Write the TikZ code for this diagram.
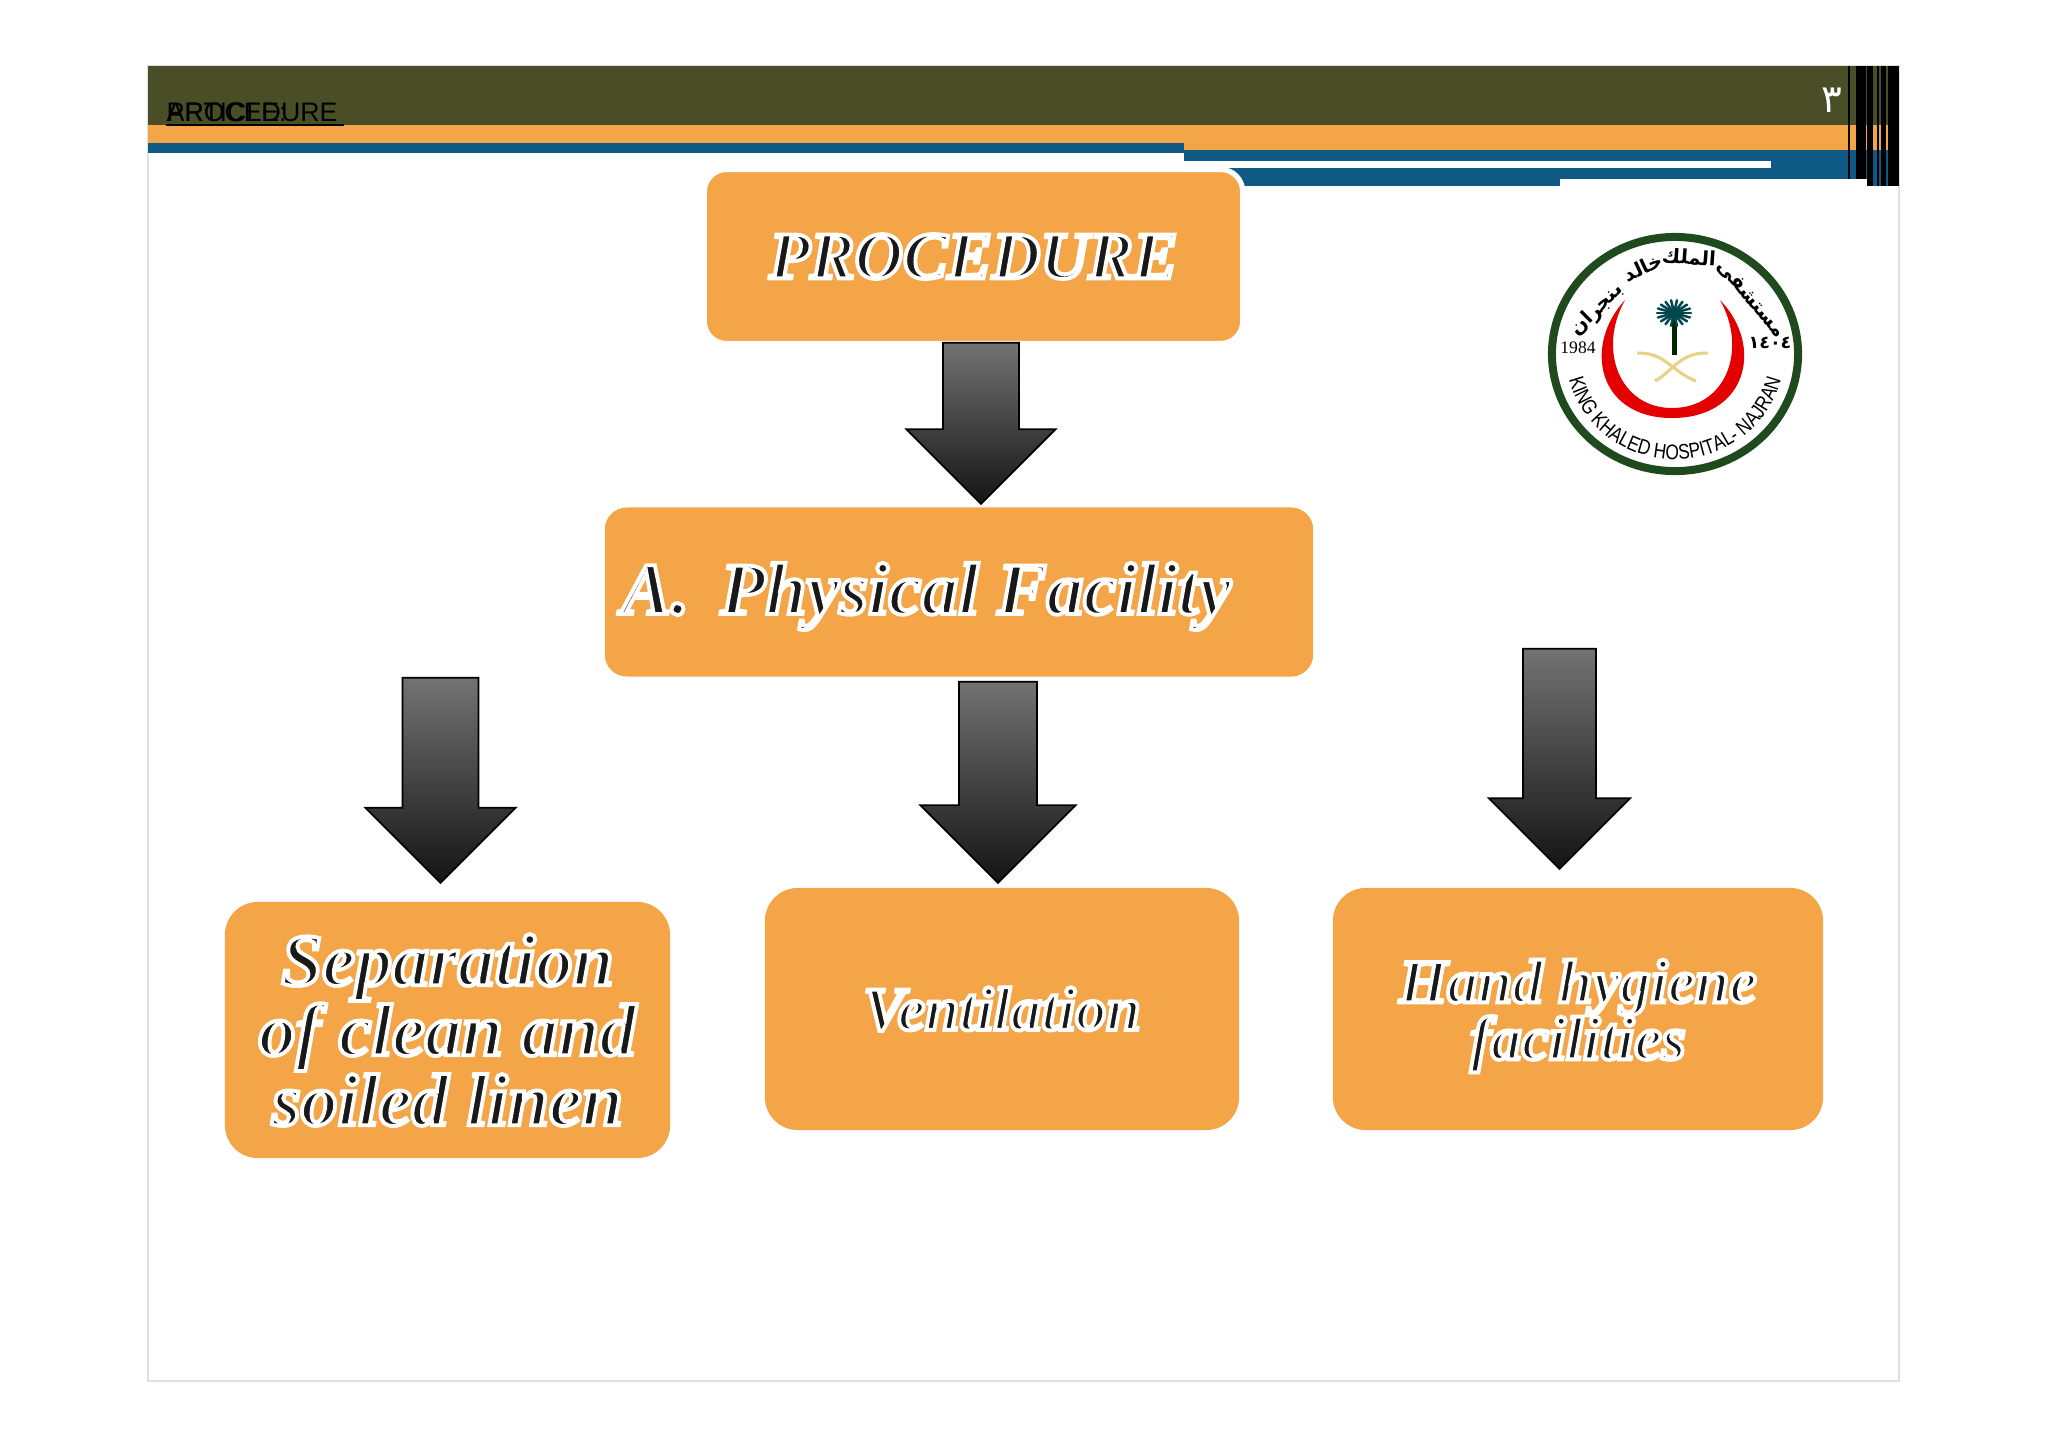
\documentclass[tikz,border=0pt]{standalone}
\usepackage{fontspec}
\setmainfont{Liberation Serif}
\setsansfont{Liberation Sans}
\newfontfamily\arabicfont[Script=Arabic]{DejaVu Sans}
\newfontfamily\logosans[FakeStretch=0.82]{Liberation Sans}
\TeXXeTstate=1
\usetikzlibrary{shapes.arrows,decorations.text}
\definecolor{olivebar}{HTML}{4A4E27}
\definecolor{orangebar}{HTML}{F3A548}
\definecolor{bluebar}{HTML}{0F5A85}
\definecolor{ringgreen}{HTML}{1E4A1E}
\definecolor{swordgold}{HTML}{E6D282}
\newcommand{\outlined}{\special{pdf:code 2 Tr 1 1 1 RG 1.1 w}}
\newcommand{\plainink}{\special{pdf:code 0 Tr}}
\tikzset{
    every node/.style={inner sep=0pt},
}

\begin{document}
\begin{tikzpicture}[x=0.01cm,y=-0.01cm,
        stepbox/.style={rounded corners=0.33cm,fill=orangebar,align=center,text=black!90,font=\bfseries\itshape},
        steptext/.style={align=center,text=black!90},
        downarrow/.style={shape=single arrow,rotate=-90,anchor=tip,draw=black,line width=0.5pt,top color=black!55,bottom color=black!92},
        headtext/.style={font=\sffamily\fontsize{7.6}{9}\selectfont,text=black,anchor=base west},
        logoword/.style={font=\arabicfont\bfseries\fontsize{5.6}{7}\selectfont,text=black}
    ]
    \useasboundingbox (0,0) rectangle (2048,1447);

    % slide
    \draw[black!12,fill=white] (148,66) rectangle (1899,1381);

    % header bands
    \fill[olivebar] (148,66) rectangle (1899,125);
    \fill[orangebar] (148,125) rectangle (1184,143);
    \fill[orangebar] (1184,125) rectangle (1899,150);
    \fill[bluebar] (148,143) rectangle (1184,153);
    \fill[bluebar] (1184,150) rectangle (1228,161);
    \fill[bluebar] (1228,150) rectangle (1899,186);
    \fill[white] (1184,161) rectangle (1771,168);
    \fill[white] (1560,179) rectangle (1867,186);

    % black stripes at right
    \fill[black] (1848,66) rectangle (1850,179);
    \fill[black] (1855.5,66) rectangle (1866,179);
    \fill[black] (1867,66) rectangle (1873,186);
    \fill[black] (1877,66) rectangle (1879,186);
    \fill[black] (1880.5,66) rectangle (1886,186);
    \fill[black] (1888,66) rectangle (1899,186);

    \node[headtext] (headb) at (166,121) {ARTICLE:};
    \node[headtext] (heada) at (166,121) {PROCEDURE};
    \draw[black,line width=0.025cm] (166,125) -- (344,125);
    \node[text=white,font=\arabicfont\fontsize{11}{12}\selectfont] (pagenum) at (1832,100) {\beginR ٣\endR};

    % boxes
    \node[stepbox,rounded corners=0.22cm,draw=white,line width=1.5pt,minimum width=5.38cm,minimum height=1.74cm,font=\bfseries\itshape\fontsize{19}{22}\selectfont] (proc) at (973.5,256.5) {\outlined PROCEDURE\plainink};
    \node[stepbox,rounded corners=0.22cm,minimum width=7.08cm,minimum height=1.69cm] (phys) at (959,592) {};
    \node[steptext,anchor=base west,font=\bfseries\itshape\fontsize{21}{22}\selectfont] (physt) at (621,614) {\outlined A.\hspace{0.17em} Physical Facility\plainink};
    \node[stepbox,minimum width=4.45cm,minimum height=2.56cm,font=\bfseries\itshape\fontsize{21}{19.9}\selectfont] (linen) at (447.5,1030) {\outlined Separation\\\outlined of clean and\\\outlined soiled linen\plainink};
    \node[stepbox,minimum width=4.74cm,minimum height=2.42cm,font=\bfseries\itshape\fontsize{17.5}{16.2}\selectfont] (vent) at (1002,1009) {\outlined Ventilation\plainink};
    \node[stepbox,minimum width=4.90cm,minimum height=2.42cm] (hand) at (1578,1009) {};
    \node[steptext,font=\bfseries\itshape\fontsize{17.5}{16.2}\selectfont] (handt) at (1578,1016) {\outlined Hand hygiene\\\outlined facilities\plainink};

    % arrows
    \node[downarrow,minimum height=1.61cm,inner ysep=0.37cm,single arrow head extend=0.365cm] (arra) at (981,505) {};
    \node[downarrow,minimum height=2.05cm,inner ysep=0.37cm,single arrow head extend=0.37cm] (arrb) at (440.5,884) {};
    \node[downarrow,minimum height=2.01cm,inner ysep=0.38cm,single arrow head extend=0.385cm] (arrc) at (998,884) {};
    \node[downarrow,minimum height=2.20cm,inner ysep=0.355cm,single arrow head extend=0.34cm] (arrd) at (1559.5,870) {};

    % logo
    \draw[ringgreen,line width=0.08cm] (1675,354) ellipse [x radius=1.23cm,y radius=1.17cm];
    \fill[red!90!black] (1625,300) .. controls (1583,345) and (1597,418) .. (1672,418) .. controls (1748,418) and (1764,345) .. (1720,300) .. controls (1748,350) and (1726,408) .. (1672,408) .. controls (1620,408) and (1597,350) .. (1625,300);
    \fill[black!85!green] (1672,317) rectangle (1677,355);
    \foreach \ang in {0,20,...,340}
        \draw[black!60!green!70!blue,line width=0.025cm,line cap=round] (1674,313) -- ++(\ang:0.17cm and 0.13cm);
    \draw[swordgold,line width=0.03cm] (1637,353) .. controls (1665,352) and (1672,372) .. (1696,381);
    \draw[swordgold,line width=0.03cm] (1708,353) .. controls (1680,352) and (1672,372) .. (1655,381);
    \node[logoword,rotate=-50] (wordd) at (1751,299) {\beginR مستشفى\endR};
    \node[logoword,rotate=-4] (worda) at (1689,257) {\beginR الملك\endR};
    \node[logoword,rotate=25] (wordb) at (1643,267) {\beginR خالد\endR};
    \node[logoword,rotate=45] (wordc) at (1597,310) {\beginR بنجران\endR};
    \node[font=\fontsize{5}{6}\selectfont] (yeara) at (1578,348) {1984};
    \node[logoword,font=\arabicfont\bfseries\fontsize{5}{6}\selectfont] (yearb) at (1770,343) {\beginL ١٤٠٤\endL};
    \path[decorate,decoration={text along path,text align=center,text={|\logosans\fontsize{6}{7}\selectfont|KING KHALED HOSPITAL- NAJRAN}}] (1567,369) arc[start angle=188,end angle=352,x radius=1.09cm,y radius=1.05cm];
\end{tikzpicture}
\end{document}
